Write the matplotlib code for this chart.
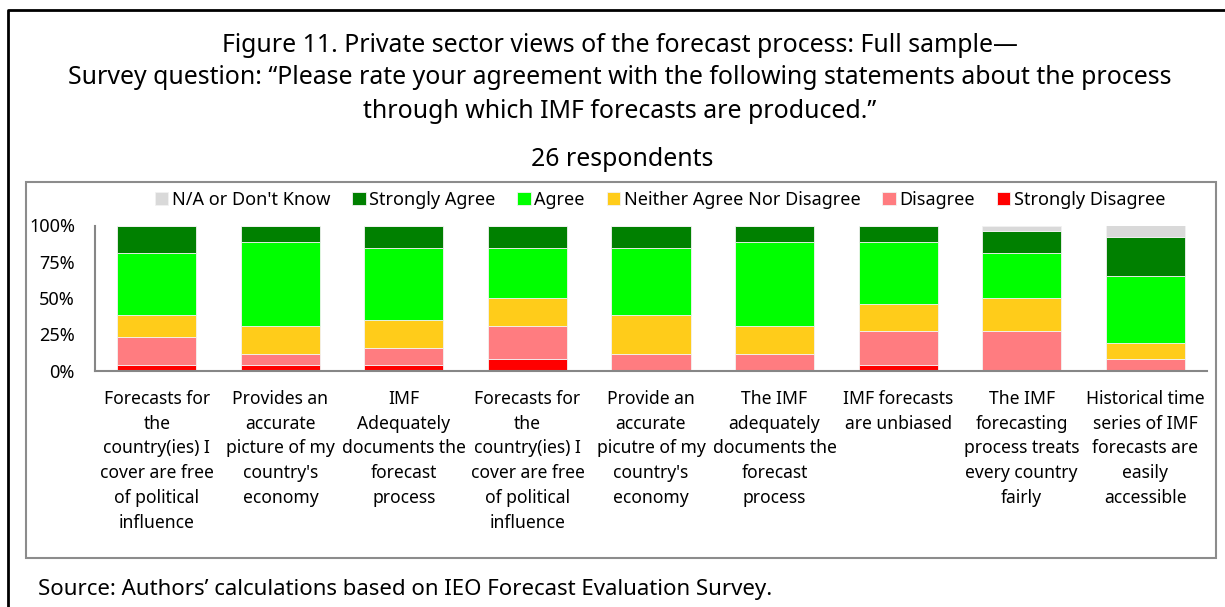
import matplotlib
matplotlib.use("Agg")
import matplotlib.pyplot as plt
from matplotlib.patches import Rectangle
from matplotlib.lines import Line2D
import numpy as np

plt.rcParams['font.family'] = ['Noto Sans', 'DejaVu Sans']

categories = [
    "Forecasts for\nthe\ncountry(ies) I\ncover are free\nof political\ninfluence",
    "Provides an\naccurate\npicture of my\ncountry's\neconomy",
    "IMF\nAdequately\ndocuments the\nforecast\nprocess",
    "Forecasts for\nthe\ncountry(ies) I\ncover are free\nof political\ninfluence",
    "Provide an\naccurate\npicutre of my\ncountry's\neconomy",
    "The IMF\nadequately\ndocuments the\nforecast\nprocess",
    "IMF forecasts\nare unbiased",
    "The IMF\nforecasting\nprocess treats\nevery country\nfairly",
    "Historical time\nseries of IMF\nforecasts are\neasily\naccessible",
]

# shares of 26 respondents, percent
strongly_disagree = [3.8, 3.8, 3.8, 7.7, 0.0, 0.0, 3.8, 0.0, 0.0]
disagree          = [19.2, 7.7, 11.5, 23.1, 11.5, 11.5, 23.1, 26.9, 7.7]
neither           = [15.4, 19.2, 19.2, 19.2, 26.9, 19.2, 19.2, 23.1, 11.5]
agree             = [42.3, 57.7, 50.0, 34.6, 46.2, 57.7, 42.3, 30.8, 46.2]
strongly_agree    = [19.2, 11.5, 15.4, 15.4, 15.4, 11.5, 11.5, 15.4, 26.9]
na_dont_know      = [0.0, 0.0, 0.0, 0.0, 0.0, 0.0, 0.0, 3.8, 7.7]

series = [
    ("Strongly Disagree", strongly_disagree, "#FF0000"),
    ("Disagree", disagree, "#FF7C80"),
    ("Neither Agree Nor Disagree", neither, "#FFCC1A"),
    ("Agree", agree, "#00FF00"),
    ("Strongly Agree", strongly_agree, "#008000"),
    ("N/A or Don't Know", na_dont_know, "#D9D9D9"),
]

yticks = [0, 25, 50, 75, 100]
ytick_labels = ["0%", "25%", "50%", "75%", "100%"]

W, H = 1225, 607
fig = plt.figure(figsize=(W/100, H/100), dpi=100)

def fx(px): return px / W
def fy(py): return 1 - py / H

ax = fig.add_axes([fx(95), fy(370.5), fx(1207) - fx(95), fy(225.5) - fy(370.5)])
x = np.arange(len(categories))
bottom = np.zeros(len(categories))
handles = {}
for name, vals, col in series:
    v = np.array(vals)
    b = ax.bar(x, v, 0.64, bottom=bottom, color=col, edgecolor="#F2F2F2", linewidth=0.6, label=name)
    handles[name] = b
    bottom += v

ax.set_xlim(-0.5, len(categories) - 0.5)
ax.set_ylim(0, 100)
ax.set_yticks(yticks)
ax.set_yticklabels(ytick_labels, fontsize=13)
ax.set_xticks(x)
ax.set_xticklabels(categories, fontsize=12.6, linespacing=1.48, va="top")
ax.tick_params(axis="both", length=0, colors="#000000")
ax.tick_params(axis="y", pad=14.4)
ax.tick_params(axis="x", pad=14)
for s in ["top", "right"]:
    ax.spines[s].set_visible(False)
for s in ["left", "bottom"]:
    ax.spines[s].set_color("#868686")
    ax.spines[s].set_linewidth(1.5)

order = ["N/A or Don't Know", "Strongly Agree", "Agree", "Neither Agree Nor Disagree", "Disagree", "Strongly Disagree"]
leg = fig.legend([handles[n] for n in order], order, loc="center", bbox_to_anchor=(fx(660), fy(200)),
                 ncol=6, frameon=False, fontsize=13, handlelength=0.75, handleheight=0.75,
                 handletextpad=0.2, columnspacing=1.2)

# inner gray frame
fig.patches.append(Rectangle((fx(26), fy(558)), fx(1216) - fx(26), fy(182) - fy(558),
                             transform=fig.transFigure, fill=False, edgecolor="#8C8C8C", linewidth=1.5))
# outer black frame (open right/bottom)
fig.lines.append(Line2D([fx(8), fx(8), fx(1225)], [0, fy(10), fy(10)], transform=fig.transFigure,
                        color="black", linewidth=2))

cx = fx(620)
fig.text(cx, fy(45), "Figure 11. Private sector views of the forecast process: Full sample\u2014",
         ha="center", va="center", fontsize=17.9)
fig.text(cx, fy(78), "Survey question: \u201cPlease rate your agreement with the following statements about the process",
         ha="center", va="center", fontsize=17.9)
fig.text(cx, fy(111), "through which IMF forecasts are produced.\u201d", ha="center", va="center", fontsize=17.9)
fig.text(fx(622), fy(160), "26 respondents", ha="center", va="center", fontsize=17.9)
fig.text(fx(38), fy(590), "Source: Authors\u2019 calculations based on IEO Forecast Evaluation Survey.",
         ha="left", va="center", fontsize=16)

fig.savefig("out.png", dpi=100)
